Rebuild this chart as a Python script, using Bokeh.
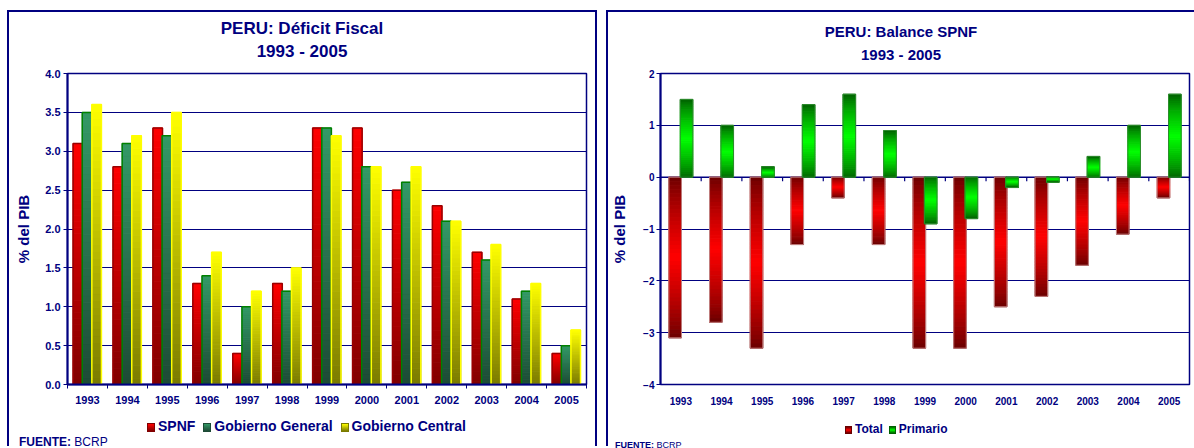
from bokeh.plotting import figure
from bokeh.layouts import row, column
from bokeh.models import (Range1d, FixedTicker, NumeralTickFormatter, Span, Div, Spacer)
from bokeh.embed import file_html
from bokeh.resources import INLINE

# ---------------- data ----------------
years = ["1993", "1994", "1995", "1996", "1997", "1998", "1999",
         "2000", "2001", "2002", "2003", "2004", "2005"]
spnf = [3.1, 2.8, 3.3, 1.3, 0.4, 1.3, 3.3, 3.3, 2.5, 2.3, 1.7, 1.1, 0.4]
gobierno_general = [3.5, 3.1, 3.2, 1.4, 1.0, 1.2, 3.3, 2.8, 2.6, 2.1, 1.6, 1.2, 0.5]
gobierno_central = [3.6, 3.2, 3.5, 1.7, 1.2, 1.5, 3.2, 2.8, 2.8, 2.1, 1.8, 1.3, 0.7]
total = [-3.1, -2.8, -3.3, -1.3, -0.4, -1.3, -3.3, -3.3, -2.5, -2.3, -1.7, -1.1, -0.4]
primario = [1.5, 1.0, 0.2, 1.4, 1.6, 0.9, -0.9, -0.8, -0.2, -0.1, 0.4, 1.0, 1.6]
left_ticks = [0.0, 0.5, 1.0, 1.5, 2.0, 2.5, 3.0, 3.5, 4.0]
right_ticks = [-4, -3, -2, -1, 0, 1, 2]

title_left = ["PERU: Déficit Fiscal", "1993 - 2005"]
title_right = ["PERU: Balance SPNF", "1993 - 2005"]
fuente = ("FUENTE:", "BCRP")

NAVY = "#000080"
FONT = "Liberation Sans"
SHADOW = {"box-shadow": "-2px -2px 0 0 #000080, 2px -2px 0 0 #000080"}
FIG_W, FIG_H = 586, 345
F_TOP, F_BOTTOM = 8, 319


def hex2rgb(h):
    h = h.lstrip("#")
    return tuple(int(h[i:i + 2], 16) for i in (0, 2, 4))


def mix(a, b, t):
    ra, rb = hex2rgb(a), hex2rgb(b)
    return "#%02x%02x%02x" % tuple(int(round(x + (y - x) * t)) for x, y in zip(ra, rb))


def gradient_bars(p, xs, vals, width, dark, bright, outline, outline_width,
                  symmetric=False, n=40):
    gx, gb, gt, gc = [], [], [], []
    for x, v in zip(xs, vals):
        for k in range(n):
            f = (k + 0.5) / n
            if symmetric:
                f = (1 - abs(2 * f - 1)) ** 0.8
            gx.append(x)
            gb.append(v * k / n)
            gt.append(v * (k + 1) / n)
            gc.append(mix(dark, bright, f))
    p.vbar(x=gx, bottom=gb, top=gt, width=width, fill_color=gc, line_color=gc, line_width=1)
    p.vbar(x=xs, bottom=0, top=vals, width=width, fill_color=None,
           line_color=outline, line_width=outline_width)


def new_fig(yr, fl, fr):
    p = figure(width=FIG_W, height=FIG_H, x_range=Range1d(-0.5, len(years) - 0.5),
               y_range=Range1d(*yr), output_backend="svg", toolbar_location=None,
               min_border_left=fl, min_border_right=FIG_W - fr,
               min_border_top=F_TOP, min_border_bottom=FIG_H - F_BOTTOM)
    p.background_fill_color = "white"
    p.border_fill_color = "white"
    p.outline_line_color = NAVY
    p.outline_line_width = 1.5
    p.xgrid.visible = False
    p.ygrid.grid_line_color = NAVY
    p.ygrid.grid_line_width = 1
    for ax in (p.xaxis[0], p.yaxis[0]):
        ax.major_label_text_font = FONT
        ax.major_label_text_font_style = "bold"
        ax.major_label_text_color = NAVY
        ax.axis_label_text_font = FONT
        ax.axis_label_text_font_style = "bold"
        ax.axis_label_text_color = NAVY
        ax.minor_tick_line_color = None
    return p


def title_div(lines, size, pad):
    html = ('<div style="width:586px;text-align:center;font-family:\'%s\';font-weight:bold;'
            'font-size:%dpx;line-height:23px;color:%s;padding-top:%dpx">%s</div>'
            % (FONT, size, NAVY, pad, "<br>".join(lines)))
    return Div(text=html, width=FIG_W, height=53, margin=(0, 0, 0, 0))


def legend_div(series, size, sq_w, sq_h, gap, pad_top, pad_left, line_h, height, symmetric):
    parts = []
    for i, (_, _, dark, bright, _, name) in enumerate(series):
        grad = ("linear-gradient(%s,%s,%s)" % (dark, bright, dark) if symmetric
                else "linear-gradient(%s,%s)" % (bright, dark))
        parts.append(
            '<span style="display:inline-block;width:%dpx;height:%dpx;border:1px solid %s;'
            'background:%s;margin:0 3px 0 %dpx;vertical-align:-1px"></span>%s'
            % (sq_w - 2, sq_h - 2, dark, grad, 0 if i == 0 else gap, name))
    html = ('<div style="white-space:nowrap;font-family:\'%s\';font-weight:bold;font-size:%dpx;'
            'line-height:%dpx;color:%s;padding:%dpx 0 0 %dpx">%s</div>'
            % (FONT, size, line_h, NAVY, pad_top, pad_left, "".join(parts)))
    return Div(text=html, width=FIG_W, height=height, margin=(0, 0, 0, 0))


def fuente_div(size, pad, height):
    html = ('<div style="width:560px;font-family:\'%s\';font-size:%dpx;line-height:%dpx;'
            'color:%s;padding-left:%dpx;white-space:nowrap"><b>%s</b> %s</div>'
            % (FONT, size, height, NAVY, pad, fuente[0], fuente[1]))
    return Div(text=html, width=FIG_W, height=height, margin=(0, 0, 0, 0))


n_years = len(years)
pos = list(range(n_years))
bounds = [i - 0.5 for i in range(n_years + 1)]
overrides = {i: y for i, y in enumerate(years)}

# ---------------- left chart ----------------
pl = new_fig((0, 4), 58, 577)
pl.yaxis.ticker = FixedTicker(ticks=left_ticks)
pl.ygrid.ticker = FixedTicker(ticks=left_ticks)
pl.yaxis.formatter = NumeralTickFormatter(format="0.0")
pl.yaxis.major_label_text_font_size = "11px"
pl.yaxis.axis_line_color = NAVY
pl.yaxis.axis_line_width = 2
pl.yaxis.major_tick_line_color = NAVY
pl.yaxis.major_tick_out = 4
pl.yaxis.major_tick_in = 0
pl.yaxis.major_label_standoff = 3
pl.yaxis.axis_label = "% del PIB"
pl.yaxis.axis_label_text_font_size = "15px"
pl.yaxis.axis_label_standoff = 10

pl.xaxis.ticker = FixedTicker(ticks=pos, minor_ticks=bounds)
pl.xaxis.major_label_overrides = overrides
pl.xaxis.major_label_text_font_size = "11px"
pl.xaxis.axis_line_color = NAVY
pl.xaxis.axis_line_width = 2
pl.xaxis.major_tick_line_color = None
pl.xaxis.major_tick_out = 0
pl.xaxis.major_tick_in = 0
pl.xaxis.minor_tick_line_color = NAVY
pl.xaxis.minor_tick_out = 4
pl.xaxis.minor_tick_in = 0
pl.xaxis.major_label_standoff = 7

lw = 0.24
left_series = [
    (spnf, -0.24, "#800000", "#ff0000", "#990000", "SPNF"),
    (gobierno_general, -0.01, "#1d4a35", "#339966", "#008000", "Gobierno General"),
    (gobierno_central, 0.23, "#7a7a00", "#ffff00", "#ffff00", "Gobierno Central"),
]
for vals, off, dark, bright, outl, name in left_series:
    gradient_bars(pl, [x + off for x in pos], vals, lw, dark, bright, outl, 1.5)

colL = column(title_div(title_left, 17, 5), pl,
              legend_div(left_series, 14, 10, 11, 8, 8, 138, 16, 24, False),
              fuente_div(12, 10, 14), spacing=0, styles=SHADOW)

# ---------------- right chart ----------------
ryr = (-4, 2)
pr = new_fig(ryr, 49, 581)
pr.yaxis.ticker = FixedTicker(ticks=right_ticks)
pr.ygrid.ticker = FixedTicker(ticks=right_ticks)
pr.yaxis.major_label_text_font_size = "10px"
pr.yaxis.axis_line_color = NAVY
pr.yaxis.axis_line_width = 2
pr.yaxis.major_tick_line_color = NAVY
pr.yaxis.major_tick_out = 4
pr.yaxis.major_tick_in = 0
pr.yaxis.major_label_standoff = 2
pr.yaxis.axis_label = "% del PIB"
pr.yaxis.axis_label_text_font_size = "15px"
pr.yaxis.axis_label_standoff = 12

pr.xaxis.ticker = FixedTicker(ticks=pos)
pr.xaxis.major_label_overrides = overrides
pr.xaxis.major_label_text_font_size = "10px"
pr.xaxis.axis_line_color = None
pr.xaxis.major_tick_line_color = None
pr.xaxis.major_tick_out = 0
pr.xaxis.major_tick_in = 0
pr.xaxis.major_label_standoff = 12

pr.add_layout(Span(location=0, dimension="width", line_color=NAVY, line_width=1.5,
                   level="underlay"))
tick_len = 4 * (ryr[1] - ryr[0]) / (F_BOTTOM - F_TOP)
pr.segment(x0=bounds, y0=[0] * len(bounds), x1=bounds, y1=[-tick_len] * len(bounds),
           line_color=NAVY, line_width=1.2)

rw = 0.31
right_series = [
    (total, -0.14, "#680000", "#ff0000", "#c08080", "Total"),
    (primario, 0.14, "#006000", "#00ff00", "#2e8b2e", "Primario"),
]
for vals, off, dark, bright, outl, name in right_series:
    gradient_bars(pr, [x + off for x in pos], vals, rw, dark, bright, outl, 1.0, symmetric=True)

colR = column(title_div(title_right, 15, 8), pr,
              legend_div(right_series, 12, 9, 10, 6, 12, 237, 14, 26, True),
              fuente_div(9, 7, 12), spacing=0, styles=SHADOW)

layout = column(Spacer(height=12),
                row(Spacer(width=9), colL, Spacer(width=13), colR, spacing=0),
                spacing=0)
open("out.html", "w").write(file_html(layout, INLINE))
